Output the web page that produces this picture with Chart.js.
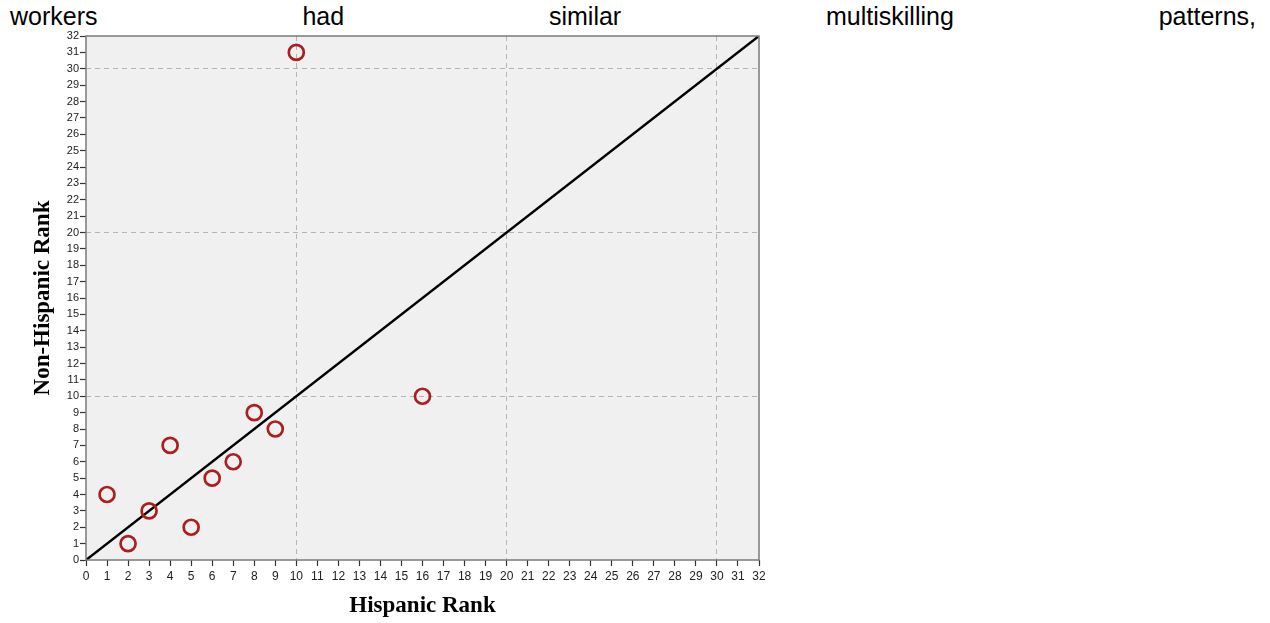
<!DOCTYPE html>
<html>
<head>
<meta charset="utf-8">
<script src="https://cdn.jsdelivr.net/npm/chart.js@4/dist/chart.umd.min.js"></script>
<style>
  html, body { margin: 0; padding: 0; background: #ffffff; }
  body { width: 1270px; height: 623px; position: relative; overflow: hidden; }
  #caption {
    position: absolute; left: 10px; top: 1px; width: 1246px;
    font-family: "Liberation Sans", Arial, sans-serif; font-size: 25px; color: #000;
    display: flex; justify-content: space-between; line-height: 30px;
  }
  #wrap { position: absolute; left: 0; top: 0; width: 800px; height: 623px; }
</style>
</head>
<body>
<div id="caption"><span>workers</span><span>had</span><span>similar</span><span>multiskilling</span><span>patterns,</span></div>
<div id="wrap"><canvas id="c" width="800" height="623"></canvas></div>
<script>
// Occupation ranks among Hispanic and non-Hispanic workers
const hispanicRank    = [1, 2, 3, 4, 5, 6, 7, 8, 9, 10, 16];
const nonHispanicRank = [4, 1, 3, 7, 2, 5, 6, 9, 8, 31, 10];
// Reference line of equal rank
const equalLineX = [0, 32];
const equalLineY = [0, 32];
const axisMin = 0, axisMax = 32, axisStep = 1;
const gridMarks = [10, 20, 30];

const rankPoints = hispanicRank.map((x, i) => ({ x, y: nonHispanicRank[i] }));
const equalLine = equalLineX.map((x, i) => ({ x, y: equalLineY[i] }));

const framePlugin = {
  id: 'frame',
  beforeDraw(chart) {
    const { ctx, chartArea: a } = chart;
    ctx.save();
    ctx.fillStyle = '#f0f0f0';
    ctx.fillRect(a.left, a.top, a.right - a.left, a.bottom - a.top);
    ctx.restore();
  },
  afterDatasetsDraw(chart) {
    const { ctx, chartArea: a } = chart;
    ctx.save();
    ctx.strokeStyle = '#7a7a7a';
    ctx.lineWidth = 1.5;
    ctx.strokeRect(a.left, a.top, a.right - a.left, a.bottom - a.top);
    ctx.restore();
  }
};

const gridColor = ctx => (ctx.tick && gridMarks.includes(ctx.tick.value)) ? '#b4b4b4' : 'rgba(0,0,0,0)';
const tickFont = { family: '"Liberation Sans", Arial, sans-serif', size: 12 };
const titleFont = { family: '"Liberation Serif", "Times New Roman", serif', size: 23, weight: 'bold' };

new Chart(document.getElementById('c'), {
  type: 'scatter',
  data: {
    datasets: [
      {
        label: 'Equal rank',
        type: 'line',
        data: equalLine,
        borderColor: '#000000',
        borderWidth: 2.5,
        pointRadius: 0,
        fill: false,
        order: 2
      },
      {
        label: 'Rank',
        data: rankPoints,
        pointRadius: 7.5,
        pointBorderWidth: 2.7,
        pointBorderColor: '#ad1f1f',
        pointBackgroundColor: 'rgba(0,0,0,0)',
        pointHoverRadius: 7.5,
        order: 1
      }
    ]
  },
  options: {
    responsive: false,
    animation: false,
    events: [],
    layout: { padding: { top: 36, right: 41, bottom: 0, left: 0 } },
    plugins: { legend: { display: false }, tooltip: { enabled: false } },
    scales: {
      x: {
        type: 'linear', min: axisMin, max: axisMax,
        afterFit: s => { s.height = 63; },
        ticks: { stepSize: axisStep, autoSkip: false, maxRotation: 0, color: '#222', font: tickFont, padding: 3 },
        grid: { color: gridColor, lineWidth: 1, tickColor: '#333', tickLength: 6, tickWidth: 1.2 },
        border: { display: false, dash: [5, 4] },
        title: { display: true, text: 'Hispanic Rank', color: '#000', font: titleFont, padding: { top: 0, bottom: 3 } }
      },
      y: {
        type: 'linear', min: axisMin, max: axisMax,
        afterFit: s => { s.width = 86; },
        ticks: { stepSize: axisStep, autoSkip: false, color: '#222', font: { family: tickFont.family, size: 11 }, padding: 1 },
        grid: { color: gridColor, lineWidth: 1, tickColor: '#333', tickLength: 6, tickWidth: 1.2 },
        border: { display: false, dash: [5, 4] },
        title: { display: true, text: 'Non-Hispanic Rank', color: '#000', font: titleFont, padding: { top: 29, bottom: 0 } }
      }
    }
  },
  plugins: [framePlugin]
});
</script>
</body>
</html>
